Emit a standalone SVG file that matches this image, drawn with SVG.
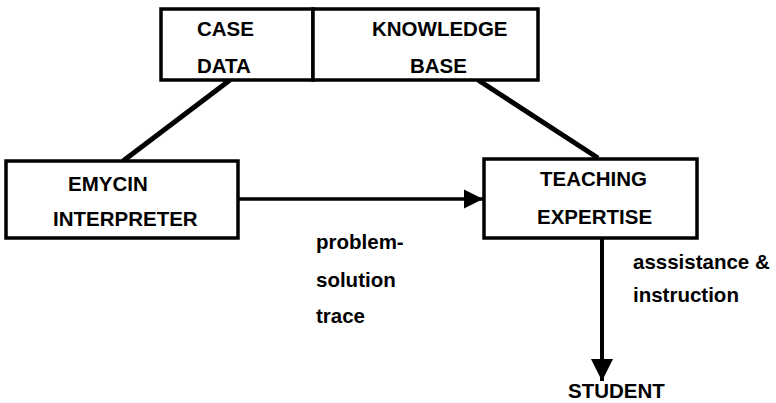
<svg xmlns="http://www.w3.org/2000/svg" width="776" height="403" viewBox="0 0 776 403">
<defs>
<style>
.box{fill:#fff;stroke:#000;stroke-width:3.5}
.t{font-family:"Liberation Sans",Arial,sans-serif;font-weight:bold;font-size:20.5px;fill:#000}
.ln{stroke:#000;fill:none}
</style>
<marker id="ah" viewBox="0 0 10 10" refX="10" refY="5" markerWidth="5.5" markerHeight="5.5" markerUnits="strokeWidth" orient="auto"><path d="M0,0 L10,5 L0,10 z" fill="#000"/></marker>
</defs>
<rect width="776" height="403" fill="#fff"/>
<g id="connectors">
<line class="ln" x1="230" y1="80" x2="123" y2="161" stroke-width="5"/>
<line class="ln" x1="478" y1="80" x2="598" y2="158" stroke-width="5"/>
<line class="ln" x1="238" y1="199" x2="483" y2="199" stroke-width="3.5" marker-end="url(#ah)"/>
<line class="ln" x1="602" y1="238" x2="602" y2="381" stroke-width="4" marker-end="url(#ah)"/>
</g>
<g id="case-data">
<rect class="box" x="161" y="9" width="152" height="71"/>
<text class="t" x="197" y="36">CASE</text>
<text class="t" x="197" y="73">DATA</text>
</g>
<g id="knowledge-base">
<rect class="box" x="313" y="9" width="225" height="71"/>
<text class="t" x="372" y="36">KNOWLEDGE</text>
<text class="t" x="410" y="73">BASE</text>
</g>
<g id="emycin">
<rect class="box" x="6" y="161" width="232" height="77"/>
<text class="t" x="68" y="191">EMYCIN</text>
<text class="t" x="53" y="226">INTERPRETER</text>
</g>
<g id="teaching">
<rect class="box" x="484" y="159" width="213" height="79"/>
<text class="t" x="540" y="186">TEACHING</text>
<text class="t" x="537" y="224">EXPERTISE</text>
</g>
<g id="student">
<text class="t" x="568" y="398">STUDENT</text>
</g>
<g id="labels">
<text class="t" x="316" y="249">problem-</text>
<text class="t" x="316" y="287">solution</text>
<text class="t" x="316" y="323">trace</text>
<text class="t" x="633" y="269">asssistance &amp;</text>
<text class="t" x="633" y="302">instruction</text>
</g>
</svg>
